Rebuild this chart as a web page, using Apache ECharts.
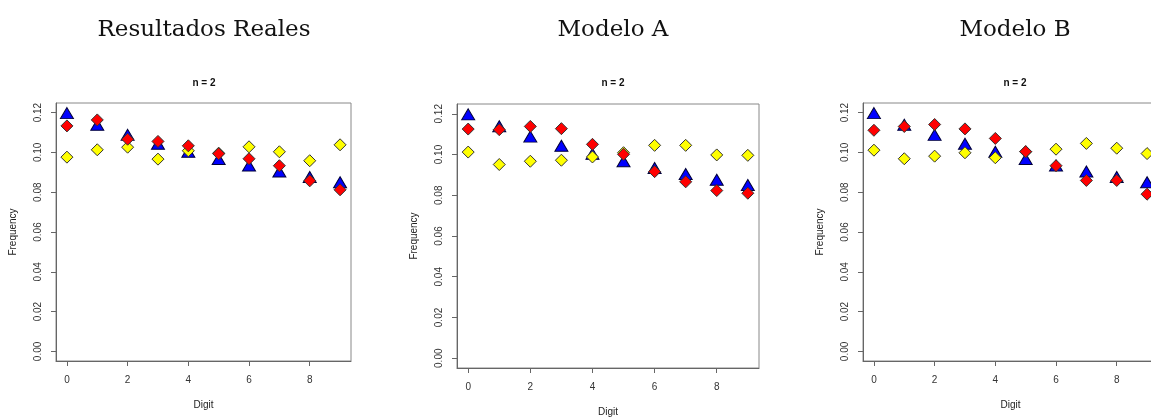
<!DOCTYPE html>
<html>
<head>
<meta charset="utf-8">
<script src="https://cdn.jsdelivr.net/npm/echarts@6/dist/echarts.min.js"></script>
<style>
  html, body { margin: 0; padding: 0; background: #fff; }
  #chart1 { width: 1151px; height: 419px; }
</style>
</head>
<body>
<div id="chart1"></div>
<script>
// data
var digits = [0, 1, 2, 3, 4, 5, 6, 7, 8, 9];
var xTicks = [0, 2, 4, 6, 8];
var yTicks = [0, 0.02, 0.04, 0.06, 0.08, 0.10, 0.12];
var panelTitles = ['Resultados Reales', 'Modelo A', 'Modelo B'];

var blueReal = [0.1197, 0.1139, 0.1088, 0.1043, 0.1003, 0.0967, 0.0934, 0.0904, 0.0876, 0.0850];
var redReal = [0.1133, 0.1163, 0.1066, 0.1055, 0.1033, 0.0993, 0.0968, 0.0933, 0.0857, 0.0812];
var yellowReal = [0.0976, 0.1013, 0.1026, 0.0966, 0.1008, 0.0996, 0.1028, 0.1003, 0.0958, 0.1038];

var blueA = [0.1197, 0.1139, 0.1088, 0.1043, 0.1003, 0.0967, 0.0934, 0.0904, 0.0876, 0.0850];
var redA = [0.1125, 0.1122, 0.1138, 0.1127, 0.1050, 0.1001, 0.0916, 0.0866, 0.0823, 0.0810];
var yellowA = [0.1012, 0.0951, 0.0967, 0.0972, 0.0988, 0.1009, 0.1045, 0.1045, 0.0998, 0.0996];

var blueB = [0.1197, 0.1139, 0.1088, 0.1043, 0.1003, 0.0967, 0.0934, 0.0904, 0.0876, 0.0850];
var redB = [0.1111, 0.1130, 0.1140, 0.1118, 0.1070, 0.1004, 0.0933, 0.0859, 0.0859, 0.0790];
var yellowB = [0.1011, 0.0968, 0.0981, 0.0998, 0.0973, 0.1003, 0.1016, 0.1045, 0.1021, 0.0994];

var chartDom = document.getElementById('chart1');
var myChart = echarts.init(chartDom);
var option;

var panels = [
    {blue: blueReal, red: redReal, yellow: yellowReal, left: 56, top: 103, width: 295, height: 258, cx: 199},
    {blue: blueA, red: redA, yellow: yellowA, left: 457, top: 104, width: 302, height: 264, cx: 608},
    {blue: blueB, red: redB, yellow: yellowB, left: 863, top: 103, width: 295, height: 258, cx: 1010}
];

function pairs(vals) {
    return digits.map(function (d, i) { return [d, vals[i]]; });
}

var grids = [], xAxes = [], yAxes = [], series = [], titles = [];
var axisGray = '#666';
var labelColor = '#333';

panels.forEach(function (p, k) {
    grids.push({
        left: p.left, top: p.top, width: p.width, height: p.height,
        outerBoundsMode: 'none', containLabel: false,
        show: true, borderColor: '#888', borderWidth: 1, backgroundColor: 'transparent'
    });
    xAxes.push({
        type: 'value', gridIndex: k, min: -0.36, max: 9.36,
        name: 'Digit', nameLocation: 'middle', nameGap: 39,
        nameTextStyle: {fontFamily: 'Liberation Sans', fontSize: 10, color: '#222'},
        axisLine: {show: true, onZero: false, lineStyle: {color: axisGray}},
        axisTick: {show: true, length: 5, customValues: xTicks, lineStyle: {color: axisGray}},
        axisLabel: {customValues: xTicks, margin: 14, fontFamily: 'Liberation Sans', fontSize: 10, color: labelColor},
        splitLine: {show: false}
    });
    yAxes.push({
        type: 'value', gridIndex: k, min: -0.0048, max: 0.1248,
        name: 'Frequency', nameLocation: 'middle', nameGap: 38, nameRotate: 90,
        nameTextStyle: {fontFamily: 'Liberation Sans', fontSize: 10, color: '#222'},
        axisLine: {show: true, onZero: false, lineStyle: {color: axisGray}},
        axisTick: {show: true, length: 5, customValues: yTicks, lineStyle: {color: axisGray}},
        axisLabel: {
            customValues: yTicks, rotate: 90, margin: 13,
            fontFamily: 'Liberation Sans', fontSize: 10, color: labelColor,
            formatter: function (v) { return v.toFixed(2); }
        },
        splitLine: {show: false}
    });
    titles.push({
        text: panelTitles[k], left: p.cx, top: 14, textAlign: 'center',
        textStyle: {fontFamily: 'DejaVu Serif', fontSize: 23, fontWeight: 'normal', color: '#111'}
    });
    titles.push({
        text: 'n = 2', left: p.cx, top: 73, textAlign: 'center',
        textStyle: {fontFamily: 'Liberation Sans', fontSize: 10, fontWeight: 'bold', color: '#111'}
    });
    series.push({
        type: 'scatter', xAxisIndex: k, yAxisIndex: k, data: pairs(p.blue),
        symbol: 'triangle', symbolSize: [13, 11],
        itemStyle: {color: '#0000ff', borderColor: '#00003a', borderWidth: 1, opacity: 1}
    });
    series.push({
        type: 'scatter', xAxisIndex: k, yAxisIndex: k, data: pairs(p.yellow),
        symbol: 'diamond', symbolSize: [12, 12],
        itemStyle: {color: '#ffff00', borderColor: '#333', borderWidth: 1, opacity: 1}
    });
    series.push({
        type: 'scatter', xAxisIndex: k, yAxisIndex: k, data: pairs(p.red),
        symbol: 'diamond', symbolSize: [12, 12],
        itemStyle: {color: '#ff0000', borderColor: '#333', borderWidth: 1, opacity: 1}
    });
});

option = {
    animation: false,
    backgroundColor: '#fff',
    title: titles,
    grid: grids,
    xAxis: xAxes,
    yAxis: yAxes,
    series: series
};

option && myChart.setOption(option);
</script>
</body>
</html>
